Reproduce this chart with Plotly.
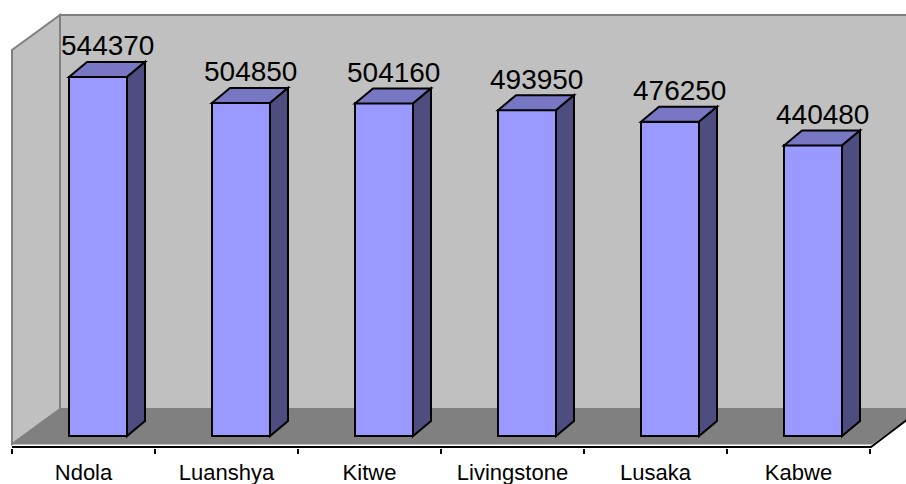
import plotly.graph_objects as go

# Population figures by town
towns = ["Ndola", "Luanshya", "Kitwe", "Livingstone", "Lusaka", "Kabwe"]
values = [544370, 504850, 504160, 493950, 476250, 440480]

W, H = 906, 484
PLOT_BOTTOM = 448          # bottom edge of the plot area in page pixels

# Pixel <-> data conversion for the frame drawn around the bars
CAT_PX = 143.0             # width of one category slot
CAT_LEFT_PX = 12.0         # left boundary of the first slot
ZERO_PX = 436.0            # where value 0 sits
VAL_PER_PX = 1516.0


def xd(px):
    return (px - CAT_LEFT_PX) / CAT_PX - 0.5


def yd(py):
    return (ZERO_PX - py) * VAL_PER_PX


# 3D bar geometry (data units)
BAR_OFFSET = xd(69) - 0.0
BAR_WIDTH = 58 / CAT_PX
DEPTH_X = 18 / CAT_PX
DEPTH_Y = 15 * VAL_PER_PX

FRONT = "#9999FF"
TOP = "#7777C4"
SIDE = "#4D4D80"
WALL = "#C0C0C0"
FLOOR = "#808080"
EDGE = "#808080"


def path(points):
    return "M " + " L ".join(f"{x:.5f},{y:.3f}" for x, y in points) + " Z"


def px_path(points, close=True):
    s = "M " + " L ".join(f"{xd(a):.5f},{yd(b):.3f}" for a, b in points)
    return s + (" Z" if close else "")


shapes = []
# back wall
shapes.append(dict(type="path", xref="x", yref="y", layer="below",
                   path=px_path([(60, 409), (60, 15), (930, 15), (930, 409)]),
                   fillcolor=WALL, line=dict(color=EDGE, width=2)))
# left side wall
shapes.append(dict(type="path", xref="x", yref="y", layer="below",
                   path=px_path([(12, 444), (12, 50), (60, 15), (60, 409)]),
                   fillcolor=WALL, line=dict(color=EDGE, width=2)))
# floor
shapes.append(dict(type="path", xref="x", yref="y", layer="below",
                   path=px_path([(12, 444), (60, 409), (920, 409), (872, 444)]),
                   fillcolor=FLOOR, line=dict(color=FLOOR, width=1)))
# category axis line and the floor's front-right edge
shapes.append(dict(type="path", xref="x", yref="y", layer="above",
                   path=px_path([(12, 447), (871, 447), (920, 410)], close=False),
                   line=dict(color="black", width=2)))

# top and side faces of each bar
for i, v in enumerate(values):
    x0 = i + BAR_OFFSET
    x1 = x0 + BAR_WIDTH
    shapes.append(dict(type="path", xref="x", yref="y", layer="above",
                       path=path([(x0, v), (x1, v), (x1 + DEPTH_X, v + DEPTH_Y),
                                  (x0 + DEPTH_X, v + DEPTH_Y)]),
                       fillcolor=TOP, line=dict(color="black", width=2)))
    shapes.append(dict(type="path", xref="x", yref="y", layer="above",
                       path=path([(x1, 0), (x1, v), (x1 + DEPTH_X, v + DEPTH_Y),
                                  (x1 + DEPTH_X, DEPTH_Y)]),
                       fillcolor=SIDE, line=dict(color="black", width=2)))

fig = go.Figure()
fig.add_trace(go.Bar(
    x=list(range(len(towns))), y=values, base=0,
    offset=BAR_OFFSET, width=BAR_WIDTH,
    marker=dict(color=FRONT, line=dict(color="black", width=2)),
    hoverinfo="skip", showlegend=False,
))

# value labels above each bar
annotations = []
for i, v in enumerate(values):
    annotations.append(dict(
        x=i + BAR_OFFSET + (BAR_WIDTH + DEPTH_X) / 2, y=v, xref="x", yref="y",
        text=str(v), showarrow=False, yshift=31,
        font=dict(family="Liberation Sans, Arial, sans-serif", size=28, color="black"),
    ))

fig.update_layout(
    width=W, height=H,
    margin=dict(l=0, r=0, t=0, b=H - PLOT_BOTTOM, pad=0),
    paper_bgcolor="white", plot_bgcolor="white",
    shapes=shapes, annotations=annotations,
    bargap=0,
    xaxis=dict(
        range=[xd(0), xd(W)], showgrid=False, zeroline=False, showline=False,
        tickmode="array", tickvals=list(range(len(towns))), ticktext=towns,
        ticks="", ticklen=5, ticklabelstandoff=9,
        tickfont=dict(family="Liberation Sans, Arial, sans-serif", size=22, color="black"),
        minor=dict(tickmode="array",
                   tickvals=[i - 0.5 for i in range(len(towns) + 1)],
                   ticks="outside", ticklen=5, tickwidth=2, tickcolor="black"),
        fixedrange=True,
    ),
    yaxis=dict(
        range=[yd(PLOT_BOTTOM), yd(0)], showgrid=False, zeroline=False,
        showline=False, showticklabels=False, ticks="", fixedrange=True,
    ),
)

fig.write_html("out.html", config={"displayModeBar": False})
